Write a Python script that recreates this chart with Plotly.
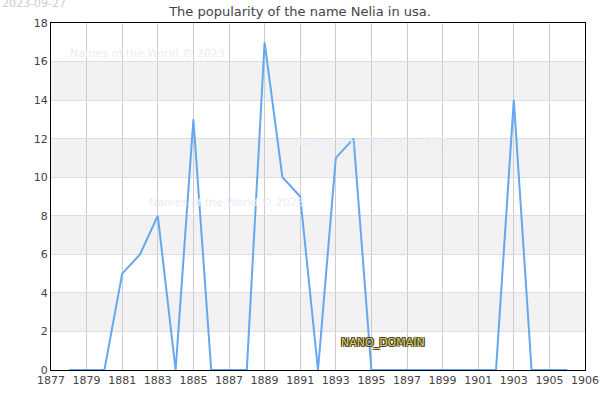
import plotly.graph_objects as go

years = list(range(1878, 1907))
values = [0, 0, 0, 5, 6, 8, 0, 13, 0, 0, 0, 17, 10, 9, 0, 11, 12, 0,
          0, 0, 0, 0, 0, 0, 0, 14, 0, 0, 0]
x_tickvals = list(range(1877, 1908, 2))
x_ticktext = [str(v) for v in range(1877, 1906, 2)] + ["1906"]
y_ticks = list(range(0, 19, 2))

title = "The popularity of the name Nelia in usa."
date_text = "2023-09-27"
watermark = "Names of the World © 2023"
watermark_pos = [(1877.95, 16.44), (1890.54, 11.78), (1882.39, 8.71)]

fig = go.Figure()
fig.add_trace(go.Scatter(x=years, y=values, mode="lines",
                         line=dict(color="#64a8f0", width=2), hoverinfo="x+y"))

shapes = []
for i in range(1, len(y_ticks) - 1, 2):
    shapes.append(dict(type="rect", xref="paper", yref="y", x0=0, x1=1,
                       y0=y_ticks[i], y1=y_ticks[i + 1], fillcolor="#f2f2f2",
                       line=dict(width=0), layer="below"))

annotations = [
    dict(text=date_text, xref="paper", yref="paper", x=-51 / 534, y=1 + (23 - 4) / 347,
         xanchor="left", yanchor="middle", showarrow=False,
         font=dict(family="DejaVu Sans", size=11, color="#cccccc")),
    dict(text="NANO_DOMAIN", xref="x", yref="y", x=1895.65, y=1.45,
         xanchor="center", yanchor="middle", showarrow=False,
         font=dict(family="DejaVu Sans", size=11, color="#d8c868",
                   shadow="1px 1px 0 #4a4218, -1px -1px 0 #4a4218, 1px -1px 0 #4a4218, -1px 1px 0 #4a4218")),
]
for (wx, wy) in watermark_pos:
    annotations.append(dict(text=watermark, xref="x", yref="y", x=wx, y=wy,
                            xanchor="left", yanchor="middle", showarrow=False,
                            font=dict(family="DejaVu Sans", size=11, color="#ebebfc")))

fig.update_layout(
    width=600, height=400,
    margin=dict(l=51, r=15, t=23, b=30, autoexpand=False),
    paper_bgcolor="white", plot_bgcolor="white",
    showlegend=False,
    title=dict(text=title, x=0.5, xanchor="center", y=1 - 11 / 400, yanchor="middle",
               font=dict(family="DejaVu Sans", size=13, color="#444444")),
    font=dict(family="DejaVu Sans", size=11, color="#444444"),
    shapes=shapes,
    annotations=annotations,
    xaxis=dict(range=[1877, 1907], tickvals=x_tickvals, ticktext=x_ticktext,
               showgrid=True, gridcolor="#cccccc", gridwidth=1, automargin=False,
               showline=True, linecolor="#000000", linewidth=1, mirror=True,
               zeroline=False, ticks="", tickfont=dict(size=11, color="#444444")),
    yaxis=dict(range=[0, 18], tickvals=y_ticks, automargin=False,
               showgrid=True, gridcolor="#dddddd", gridwidth=1,
               showline=True, linecolor="#000000", linewidth=1, mirror=True,
               zeroline=False, ticks="", tickfont=dict(size=11, color="#444444")),
)

fig.write_html("out.html")
